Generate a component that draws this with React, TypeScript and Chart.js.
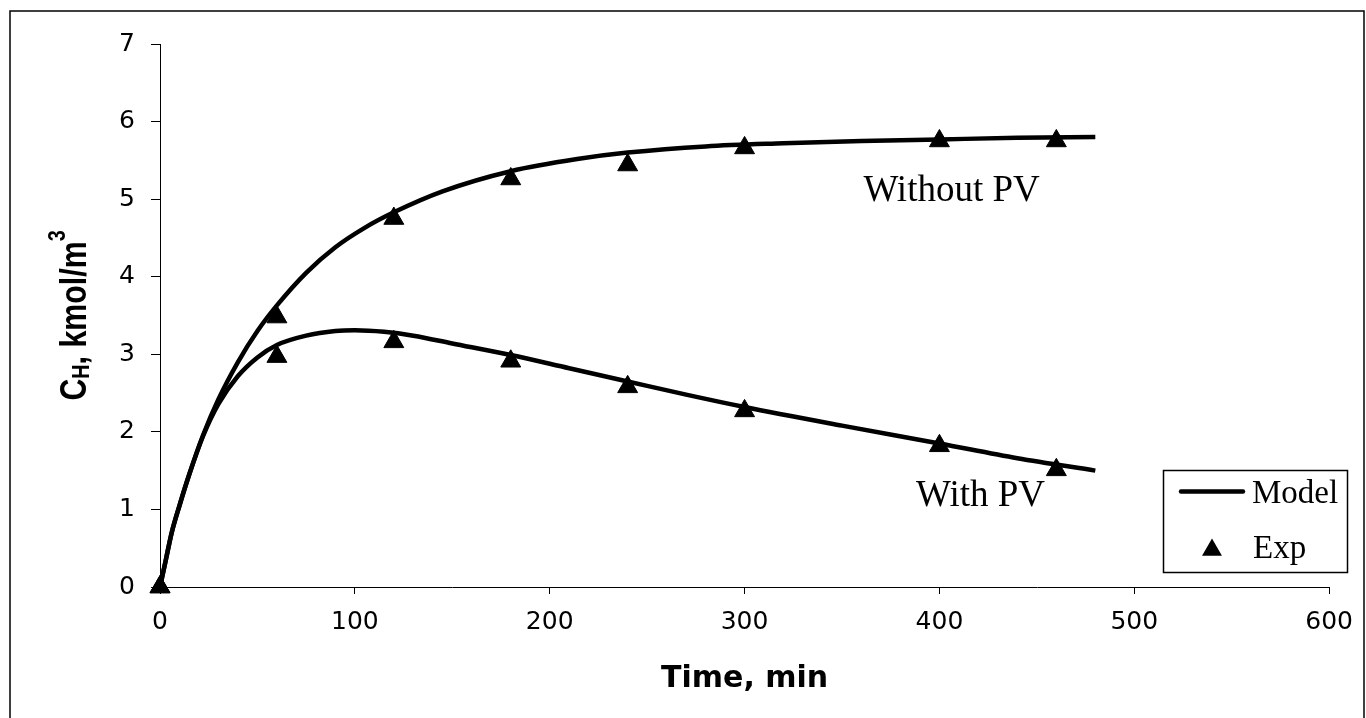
import React, { useEffect, useRef } from "react";
import { Chart, registerables } from "chart.js";

Chart.register(...registerables);

// ---- data ----
const xTickStep = 100;
const xMin = 0;
const xMax = 600;
const yMin = 0;
const yMax = 7;
const yTickStep = 1;

// Model curve, without PV
const modelTimeWithout = [0, 3, 6, 10, 15, 22, 30, 40, 50, 60, 75, 90, 105, 120, 145, 180, 215, 240, 280, 320, 360, 400, 440, 480];
const modelWithout = [0, 0.35, 0.7, 1.05, 1.45, 1.95, 2.42, 2.9, 3.3, 3.63, 4.05, 4.38, 4.63, 4.83, 5.1, 5.36, 5.52, 5.6, 5.68, 5.72, 5.75, 5.77, 5.79, 5.8];

// Model curve, with PV
const modelTimeWith = [0, 3, 6, 10, 15, 22, 30, 40, 50, 60, 75, 90, 100, 115, 130, 150, 180, 210, 240, 270, 300, 350, 400, 440, 480];
const modelWith = [0, 0.35, 0.7, 1.05, 1.45, 1.94, 2.36, 2.72, 2.96, 3.12, 3.24, 3.3, 3.31, 3.29, 3.24, 3.14, 2.99, 2.82, 2.65, 2.48, 2.32, 2.08, 1.85, 1.66, 1.5];

// Experimental points
const expTimeWithout = [0, 60, 120, 180, 240, 300, 400, 460];
const expWithout = [0, 3.48, 4.75, 5.26, 5.44, 5.66, 5.75, 5.75];
const expTimeWith = [0, 60, 120, 180, 240, 300, 400, 460];
const expWith = [0, 2.97, 3.16, 2.91, 2.58, 2.27, 1.82, 1.51];

// Text
const xTitle = "Time, min";
const yTitleParts = ["C", "H", ", kmol/m", "3"];
const legendLabels = ["Model", "Exp"];
const curveLabels = ["Without PV", "With PV"];
const curveLabelX = [361, 388];
const curveLabelY = [4.98, 1.05];

const toPoints = (xs: number[], ys: number[]) => xs.map((x, i) => ({ x, y: ys[i] }));

const SANS = "'DejaVu Sans', sans-serif";
const SERIF = "'Liberation Serif', 'Times New Roman', serif";
const ARIAL = "'Liberation Sans', Arial, sans-serif";

const framePlugin = {
  id: "frame",
  beforeDraw(chart: any) {
    const ctx = chart.ctx;
    ctx.save();
    ctx.fillStyle = "#fff";
    ctx.fillRect(0, 0, chart.width, chart.height);
    ctx.strokeStyle = "#000";
    ctx.lineWidth = 1.5;
    ctx.strokeRect(10, 11, 1354, 730);
    ctx.restore();
  },
};

const yTitlePlugin = {
  id: "yTitle",
  afterDraw(chart: any) {
    const ctx = chart.ctx;
    const { top, bottom } = chart.chartArea;
    const cy = (top + bottom) / 2;
    const big = `bold 37px ${ARIAL}`;
    const small = `bold 24px ${ARIAL}`;
    const parts: [string, string, number][] = [
      [yTitleParts[0], big, 0],
      [yTitleParts[1], small, 3],
      [yTitleParts[2], big, 0],
      [yTitleParts[3], small, -21],
    ];
    ctx.save();
    ctx.fillStyle = "#000";
    ctx.translate(86, cy);
    ctx.rotate(-Math.PI / 2);
    ctx.scale(0.82, 1);
    ctx.textBaseline = "alphabetic";
    ctx.textAlign = "left";
    let total = 0;
    for (const [t, f] of parts) {
      ctx.font = f;
      total += ctx.measureText(t).width;
    }
    let x = -total / 2;
    for (const [t, f, dy] of parts) {
      ctx.font = f;
      ctx.fillText(t, x, dy);
      x += ctx.measureText(t).width;
    }
    ctx.restore();
  },
};

const curveLabelPlugin = {
  id: "curveLabels",
  afterDatasetsDraw(chart: any) {
    const ctx = chart.ctx;
    const xs = chart.scales.x;
    const ys = chart.scales.y;
    ctx.save();
    ctx.fillStyle = "#000";
    ctx.font = `37px ${SERIF}`;
    ctx.textAlign = "left";
    ctx.textBaseline = "alphabetic";
    curveLabels.forEach((t, i) => {
      ctx.fillText(t, xs.getPixelForValue(curveLabelX[i]), ys.getPixelForValue(curveLabelY[i]));
    });
    ctx.restore();
  },
};

const drawTriangle = (ctx: CanvasRenderingContext2D, x: number, y: number, r: number) => {
  ctx.beginPath();
  for (let k = 0; k < 3; k++) {
    const a = (k * 2 * Math.PI) / 3;
    const px = x + Math.sin(a) * r;
    const py = y - Math.cos(a) * r;
    if (k === 0) ctx.moveTo(px, py);
    else ctx.lineTo(px, py);
  }
  ctx.closePath();
  ctx.fill();
};

const legendPlugin = {
  id: "customLegend",
  afterDraw(chart: any) {
    const ctx = chart.ctx;
    ctx.save();
    ctx.fillStyle = "#fff";
    ctx.fillRect(1163, 470, 184, 102);
    ctx.strokeStyle = "#000";
    ctx.lineWidth = 1.5;
    ctx.strokeRect(1163.5, 470.5, 184, 102);
    ctx.lineWidth = 4.5;
    ctx.lineCap = "round";
    ctx.beginPath();
    ctx.moveTo(1181, 491.5);
    ctx.lineTo(1243, 491.5);
    ctx.stroke();
    ctx.fillStyle = "#000";
    drawTriangle(ctx, 1212, 550, 11.5);
    ctx.font = `33px ${SERIF}`;
    ctx.textBaseline = "alphabetic";
    ctx.textAlign = "left";
    ctx.fillText(legendLabels[0], 1252, 503);
    ctx.fillText(legendLabels[1], 1253, 558);
    ctx.restore();
  },
};

export default function App() {
  const ref = useRef<HTMLCanvasElement | null>(null);

  useEffect(() => {
    const canvas = ref.current;
    if (!canvas) return;
    const lineDs = (data: any) => ({
      data,
      borderColor: "#000",
      backgroundColor: "#000",
      borderWidth: 4.5,
      pointRadius: 0,
      fill: false,
      cubicInterpolationMode: "monotone" as const,
      clip: false as any,
    });
    const expDs = (data: any) => ({
      data,
      showLine: false,
      pointStyle: "triangle" as const,
      pointRadius: 11.5,
      pointBackgroundColor: "#000",
      pointBorderColor: "#000",
      pointBorderWidth: 1,
      clip: false as any,
    });
    const chart = new Chart(canvas, {
      type: "line",
      data: {
        datasets: [
          { label: "Model Without PV", ...lineDs(toPoints(modelTimeWithout, modelWithout)) },
          { label: "Model With PV", ...lineDs(toPoints(modelTimeWith, modelWith)) },
          { label: "Exp Without PV", ...expDs(toPoints(expTimeWithout, expWithout)) },
          { label: "Exp With PV", ...expDs(toPoints(expTimeWith, expWith)) },
        ] as any,
      },
      options: {
        responsive: false,
        animation: false,
        devicePixelRatio: 1,
        layout: { padding: { left: 0, right: 29, top: 44, bottom: 0 } },
        plugins: { legend: { display: false }, tooltip: { enabled: false } },
        scales: {
          x: {
            type: "linear",
            min: xMin,
            max: xMax,
            ticks: { stepSize: xTickStep, color: "#000", font: { family: SANS, size: 25 }, padding: 13 },
            grid: { display: true, drawOnChartArea: false, drawTicks: true, tickLength: 7, color: "#000", lineWidth: 1 },
            border: { display: true, color: "#000", width: 1 },
            title: {
              display: true,
              text: xTitle,
              color: "#000",
              font: { family: SANS, size: 30, weight: "bold" },
              padding: { top: 0, bottom: 21 },
            },
            afterFit: (s: any) => {
              s.height = 131;
            },
          },
          y: {
            type: "linear",
            min: yMin,
            max: yMax,
            ticks: { stepSize: yTickStep, color: "#000", font: { family: SANS, size: 25 }, padding: 16 },
            grid: { display: true, drawOnChartArea: false, drawTicks: true, tickLength: 9, color: "#000", lineWidth: 1 },
            border: { display: true, color: "#000", width: 1 },
            afterFit: (s: any) => {
              s.width = 160;
            },
          },
        },
      } as any,
      plugins: [framePlugin, yTitlePlugin, curveLabelPlugin, legendPlugin],
    });
    return () => chart.destroy();
  }, []);

  return (
    <div style={{ position: "fixed", left: 0, top: 0, width: 1366, height: 718, background: "#fff" }}>
      <canvas ref={ref} width={1366} height={718} style={{ display: "block" }} />
    </div>
  );
}
